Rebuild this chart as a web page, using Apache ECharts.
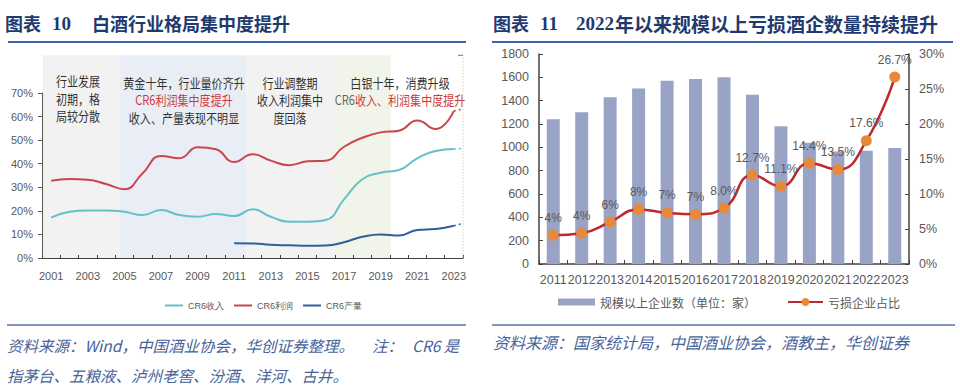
<!DOCTYPE html>
<html><head><meta charset="utf-8">
<script src="https://cdn.jsdelivr.net/npm/echarts@6/dist/echarts.min.js"></script>
<style>html,body{margin:0;padding:0;background:#fff}#c{width:960px;height:388px}</style>
</head><body><div id="c"></div>
<script>
// ---------- Left chart data (图表10) ----------
const years = ['2001','2002','2003','2004','2005','2006','2007','2008','2009','2010','2011','2012','2013','2014','2015','2016','2017','2018','2019','2020','2021','2022','2023'];
const cr6Revenue = [17.1, 19.6, 20.2, 20.2, 19.6, 18.2, 20.4, 18.2, 17.5, 18.7, 17.8, 20.7, 17.5, 15.4, 15.4, 16.1, 24.9, 33.4, 36.2, 37.3, 42.3, 45.4, 46.2];
const cr6Profit = [32.8, 33.5, 33.2, 31.4, 29.2, 36.0, 43.3, 42.3, 47.0, 46.1, 40.7, 44.0, 41.3, 39.4, 41.0, 41.3, 47.2, 51.0, 53.3, 54.0, 58.3, 54.7, 62.4];
const cr6Output = [null, null, null, null, null, null, null, null, null, null, 6.3, 6.2, 5.6, 5.4, 5.2, 5.3, 6.7, 9.0, 10.0, 9.5, 11.9, 12.3, 13.7];
const tailX = [2023, 2023.45];
const revenueTail = [46.2, 46.5];
const profitTail = [62.4, 63.1];
const outputTail = [13.7, 14.6];
const periodBounds = [2000.5, 2004.7, 2011.6, 2016.5, 2019.5, 2023.5];
const periodColors = ['#f2f2f2', '#e9eef6', '#f2f2f2', '#f1f5e9'];
const bandTopValue = 86;

// ---------- Right chart data (图表11) ----------
const years2 = ['2011','2012','2013','2014','2015','2016','2017','2018','2019','2020','2021','2022','2023'];
const firmCount = [1240, 1300, 1430, 1505, 1570, 1585, 1600, 1450, 1180, 1040, 965, 970, 995];
const lossShare = [4.1, 4.4, 6.0, 7.8, 7.3, 7.1, 8.0, 12.7, 11.1, 14.4, 13.5, 17.6, 26.7];
const lossShareLabels = ['4%','4%','6%','8%','7%','7%','8.0%','12.7%','11.1%','14.4%','13.5%','17.6%','26.7%'];

const NARROW = '"Liberation Sans Narrow","Liberation Sans",Arial,sans-serif';
const SANS = '"Liberation Sans",Arial,sans-serif';
const CJK = '"Noto Sans CJK SC","Noto Sans",sans-serif';
const C_REV = '#63c1cb', C_PRO = '#c9474a', C_OUT = '#2f5f9f';

const chart = echarts.init(document.getElementById('c'), null, {renderer: 'svg'});

const option = {
  animation: false,
  backgroundColor: '#fff',
  grid: [
    {left: 42, right: 497, top: 93, bottom: 130},
    {left: 539, right: 51, top: 54, bottom: 124}
  ],
  legend: [
    {data: ['CR6收入','CR6利润','CR6产量'], left: 160, top: 296, icon: 'rect', itemWidth: 18, itemHeight: 2, itemGap: 10,
     textStyle: {fontSize: 9, color: '#595959', fontFamily: NARROW}},
    {data: ['规模以上企业数（单位：家）'], left: 553, top: 291, icon: 'rect', itemWidth: 37, itemHeight: 7,
     textStyle: {fontSize: 12, color: '#595959', fontFamily: CJK}},
    {data: ['亏损企业占比'], left: 782, top: 291, itemWidth: 35, itemHeight: 10,
     textStyle: {fontSize: 12, color: '#595959', fontFamily: CJK}}
  ],
  xAxis: [
    {type: 'category', gridIndex: 0, data: years, boundaryGap: true,
     axisLine: {lineStyle: {color: '#404040', width: 1}},
     axisTick: {show: true, inside: true, length: 3, interval: 0, lineStyle: {color: '#404040'}},
     axisLabel: {interval: 1, margin: 12, fontSize: 11, color: '#595959', fontFamily: NARROW},
     splitLine: {show: false}},
    {type: 'value', gridIndex: 0, min: periodBounds[0], max: periodBounds[periodBounds.length - 1], show: false},
    {type: 'category', gridIndex: 1, data: years2, boundaryGap: true,
     axisLine: {lineStyle: {color: '#404040', width: 1.5}},
     axisTick: {show: true, inside: true, length: 4, interval: 0, lineStyle: {color: '#404040'}},
     axisLabel: {interval: 0, margin: 9, fontSize: 12.5, color: '#595959', fontFamily: SANS},
     splitLine: {show: false}}
  ],
  yAxis: [
    {type: 'value', gridIndex: 0, min: 0, max: 70, interval: 10,
     axisLine: {show: true, lineStyle: {color: '#595959'}},
     axisTick: {show: true, length: 4, lineStyle: {color: '#595959'}},
     axisLabel: {formatter: '{value}%', margin: 9, fontSize: 11, color: '#595959', fontFamily: NARROW},
     splitLine: {show: false}},
    {type: 'value', gridIndex: 1, min: 0, max: 1800, interval: 200,
     axisLine: {show: true, lineStyle: {color: '#404040', width: 1.5}},
     axisTick: {show: true, inside: true, length: 4, lineStyle: {color: '#404040'}},
     axisLabel: {formatter: v => String(v), margin: 10, fontSize: 12.5, color: '#595959', fontFamily: SANS},
     splitLine: {show: false}},
    {type: 'value', gridIndex: 1, min: 0, max: 30, interval: 5, position: 'right',
     axisLine: {show: true, lineStyle: {color: '#404040', width: 1.5}},
     axisTick: {show: true, inside: true, length: 4, lineStyle: {color: '#404040'}},
     axisLabel: {formatter: '{value}%', margin: 10, fontSize: 12.5, color: '#595959', fontFamily: SANS},
     splitLine: {show: false}}
  ],
  series: [
    {name: 'CR6收入', type: 'line', xAxisIndex: 0, yAxisIndex: 0, data: cr6Revenue, smooth: true, symbol: 'none',
     itemStyle: {color: C_REV}, lineStyle: {color: C_REV, width: 2}, z: 3},
    {name: 'CR6利润', type: 'line', xAxisIndex: 0, yAxisIndex: 0, data: cr6Profit, smooth: true, symbol: 'none',
     itemStyle: {color: C_PRO}, lineStyle: {color: C_PRO, width: 2}, z: 3},
    {name: 'CR6产量', type: 'line', xAxisIndex: 0, yAxisIndex: 0, data: cr6Output, smooth: true, symbol: 'none',
     itemStyle: {color: C_OUT}, lineStyle: {color: C_OUT, width: 2}, z: 3},
    {name: 'revTail', type: 'line', xAxisIndex: 1, yAxisIndex: 0, data: tailX.map((x, i) => [x, revenueTail[i]]), symbol: 'none',
     lineStyle: {color: C_REV, width: 1.5, type: [2, 3]}, z: 3},
    {name: 'proTail', type: 'line', xAxisIndex: 1, yAxisIndex: 0, data: tailX.map((x, i) => [x, profitTail[i]]), symbol: 'none',
     lineStyle: {color: C_PRO, width: 1.5, type: [2, 3]}, z: 3},
    {name: 'outTail', type: 'line', xAxisIndex: 1, yAxisIndex: 0, data: tailX.map((x, i) => [x, outputTail[i]]), symbol: 'none',
     lineStyle: {color: C_OUT, width: 1.5, type: [2, 3]}, z: 3},
    {name: '规模以上企业数（单位：家）', type: 'bar', xAxisIndex: 2, yAxisIndex: 1, data: firmCount, barWidth: 13,
     itemStyle: {color: '#98a3c6'}},
    {name: '亏损企业占比', type: 'line', xAxisIndex: 2, yAxisIndex: 2, data: lossShare, smooth: true,
     symbol: 'circle', symbolSize: 11, z: 4,
     itemStyle: {color: '#e8893a'}, lineStyle: {color: '#c0282e', width: 2.5},
     label: {show: true, position: 'top', distance: 6, fontSize: 12, color: '#595959', fontFamily: SANS,
             formatter: p => lossShareLabels[p.dataIndex]}}
  ]
};
chart.setOption(option);

// ---------- graphics (bands computed through the axis scales) ----------
const px = v => chart.convertToPixel({xAxisIndex: 1}, v);
const py = v => chart.convertToPixel({yAxisIndex: 0}, v);
const yTop = py(bandTopValue), yBot = py(0);
const els = [];
for (let i = 0; i < periodColors.length; i++) {
  const x0 = px(periodBounds[i]), x1 = px(periodBounds[i + 1]);
  els.push({type: 'rect', z: -5, silent: true, shape: {x: x0 + 1, y: yTop, width: x1 - x0, height: yBot - yTop},
            style: {fill: periodColors[i]}});
}
const xEnd = px(periodBounds[periodBounds.length - 1]);
els.push({type: 'line', z: 5, shape: {x1: xEnd, y1: yTop, x2: xEnd, y2: yBot}, style: {stroke: '#b7c98c', lineWidth: 1, lineDash: [1, 2]}});
els.push({type: 'line', z: 5, shape: {x1: xEnd - 5, y1: yTop, x2: xEnd, y2: yTop}, style: {stroke: '#d05050', lineWidth: 1}});

function txt(text, x, y, font, fill, align, extra) {
  const e = {type: 'text', x: x, y: y, z: 10, silent: true,
    style: {text: text, font: font, fill: fill, align: align || 'left', textAlign: align || 'left',
            verticalAlign: 'middle', textVerticalAlign: 'middle'}};
  if (extra) Object.assign(e, extra);
  return e;
}
const NAVY = '#1f3a6e';
const TF = 'bold 18px ' + CJK;
const TN = 'bold 19px "Liberation Serif","DejaVu Serif",serif';
// titles
els.push(txt('图表', 5, 23, TF, NAVY));
els.push(txt('10', 52, 23, TN, NAVY));
els.push(txt('白酒行业格局集中度提升', 92, 23, TF, NAVY));
els.push(txt('图表', 493, 23, TF, NAVY));
els.push(txt('11', 540, 23, TN, NAVY));
els.push(txt('2022', 576, 23, TN, NAVY));
els.push(txt('年以来规模以上亏损酒企数量持续提升', 615, 23, 'bold 19px ' + CJK, NAVY));
// title rules
const RULE = '#3f63a8';
els.push({type: 'line', shape: {x1: 8, y1: 42, x2: 466, y2: 42}, style: {stroke: RULE, lineWidth: 2}});
els.push({type: 'line', shape: {x1: 492, y1: 42, x2: 953, y2: 42}, style: {stroke: RULE, lineWidth: 2}});
els.push({type: 'line', shape: {x1: 7, y1: 325, x2: 466, y2: 325}, style: {stroke: '#5673a8', lineWidth: 1.5}});
els.push({type: 'line', shape: {x1: 492, y1: 325, x2: 955, y2: 325}, style: {stroke: '#5673a8', lineWidth: 1.5}});
// sources
const SC = '#47639a';
const SF = 'italic 15.5px ' + CJK;
els.push(txt('资料来源：Wind，中国酒业协会，华创证券整理。', 7, 345, SF, SC));
els.push(txt('注：', 372, 345, SF, SC));
els.push(txt('CR6 是', 412, 345, SF, SC));
els.push(txt('指茅台、五粮液、泸州老窖、汾酒、洋河、古井。', 7, 375, SF, SC));
els.push(txt('资料来源：国家统计局，中国酒业协会，酒教主，华创证券', 493, 342, 'italic 16px ' + CJK, SC));
// annotations
const AF = '13px ' + CJK, AG = '#333333', AR = '#cc3b3b';
const sc = {scaleX: 0.85};
els.push(txt('行业发展', 56, 80, AF, AG, 'left', sc));
els.push(txt('初期，格', 56, 98, AF, AG, 'left', sc));
els.push(txt('局较分散', 56, 115, AF, AG, 'left', sc));
els.push(txt('黄金十年，行业量价齐升', 184, 82, AF, AG, 'center', sc));
els.push(txt('CR6利润集中度提升', 184, 99, AF, AR, 'center', sc));
els.push(txt('收入、产量表现不明显', 184, 117, AF, AG, 'center', sc));
els.push(txt('行业调整期', 290, 82, AF, AG, 'center', sc));
els.push(txt('收入利润集中', 290, 99, AF, AG, 'center', sc));
els.push(txt('度回落', 290, 117, AF, AG, 'center', sc));
els.push(txt('白银十年，消费升级', 400, 82, AF, AG, 'center', sc));
els.push({type: 'text', x: 400, y: 99, z: 10, scaleX: 0.85, silent: true,
  style: {text: '{g|CR6}{r|收入、利润集中度提升}', align: 'center', textAlign: 'center', verticalAlign: 'middle', textVerticalAlign: 'middle',
          font: AF, rich: {g: {fill: '#666666', font: AF}, r: {fill: AR, font: AF}}}});

chart.setOption({graphic: {elements: els}});
</script>
</body></html>
